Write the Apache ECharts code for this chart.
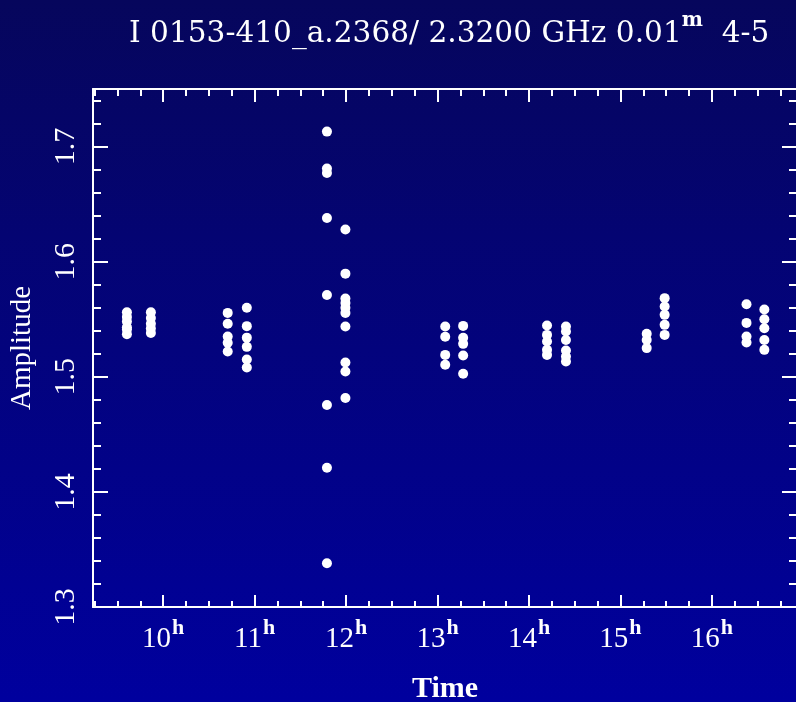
<!DOCTYPE html>
<html>
<head>
<meta charset="utf-8">
<script src="https://cdn.jsdelivr.net/npm/echarts@6/dist/echarts.min.js"></script>
<style>
  html, body { margin: 0; padding: 0; background: #000070; }
  #chart { width: 796px; height: 702px; }
</style>
</head>
<body>
<div id="chart"></div>
<script>
// Scan column times (hours UT)
const scanTimes = [9.604, 9.866, 10.706, 10.915, 11.791, 11.993, 13.084, 13.280, 14.197, 14.404, 15.287, 15.483, 16.378, 16.573];
// Amplitudes for each scan column
const amp1  = [1.556, 1.552, 1.548, 1.543, 1.541, 1.537];
const amp2  = [1.556, 1.551, 1.546, 1.542, 1.538];
const amp3  = [1.5555, 1.546, 1.535, 1.5295, 1.522];
const amp4  = [1.560, 1.544, 1.534, 1.526, 1.515, 1.508];
const amp5  = [1.713, 1.681, 1.677, 1.638, 1.571, 1.4755, 1.421, 1.338];
const amp6  = [1.628, 1.5896, 1.568, 1.564, 1.560, 1.5555, 1.5436, 1.5124, 1.5046, 1.4815];
const amp7  = [1.5436, 1.5347, 1.519, 1.5104];
const amp8  = [1.5442, 1.5338, 1.5286, 1.5185, 1.5026];
const amp9  = [1.5445, 1.5364, 1.5306, 1.5234, 1.519];
const amp10 = [1.5436, 1.5393, 1.532, 1.5228, 1.5176, 1.5133];
const amp11 = [1.5373, 1.532, 1.5249];
const amp12 = [1.5683, 1.561, 1.5538, 1.5451, 1.5364];
const amp13 = [1.563, 1.5468, 1.535, 1.5298];
const amp14 = [1.5584, 1.550, 1.5422, 1.532, 1.5234];
const ampColumns = [amp1, amp2, amp3, amp4, amp5, amp6, amp7, amp8, amp9, amp10, amp11, amp12, amp13, amp14];

const xMin = 9.2333, xMax = 16.93;
const yMin = 1.3, yMax = 1.75, yStep = 0.1;
const titleMain = 'I 0153-410_a.2368/ 2.3200 GHz 0.01';
const titleSup = 'm';
const titleTail = '  4-5';

const points = [];
scanTimes.forEach((t, i) => ampColumns[i].forEach(a => points.push([t, a])));

const serif = 'Liberation Serif';
const titleFont = 'DejaVu Serif';
const white = '#ffffff';

function xAxisBase(pos, majorLen, minorLen, showLabels) {
  return {
    type: 'value', position: pos, min: xMin, max: xMax,
    minInterval: 1, maxInterval: 1, splitNumber: 8,
    axisLine: { show: true, lineStyle: { color: white, width: 2 } },
    axisTick: { show: true, inside: true, length: majorLen, lineStyle: { color: white, width: 2 } },
    minorTick: { show: true, splitNumber: 4, length: minorLen, lineStyle: { color: white, width: 2 } },
    splitLine: { show: false }, minorSplitLine: { show: false },
    axisLabel: showLabels ? {
      show: true, showMinLabel: false, showMaxLabel: false, margin: 10,
      formatter: v => '{n|' + Math.round(v) + '}{s|h}',
      rich: {
        n: { fontFamily: serif, fontSize: 29, color: white, padding: [8, 1, 0, 0] },
        s: { fontFamily: serif, fontSize: 22, fontWeight: 'bold', color: white, verticalAlign: 'top' }
      }
    } : { show: false }
  };
}
function yAxisBase(pos, showLabels) {
  return {
    type: 'value', position: pos, min: yMin, max: yMax, interval: yStep,
    axisLine: { show: true, lineStyle: { color: white, width: 2 } },
    axisTick: { show: true, inside: true, length: 15, lineStyle: { color: white, width: 2 } },
    minorTick: { show: true, splitNumber: 5, length: 8, lineStyle: { color: white, width: 2 } },
    splitLine: { show: false }, minorSplitLine: { show: false },
    axisLabel: showLabels ? {
      show: true, showMaxLabel: false, rotate: 90, margin: 12,
      fontFamily: serif, fontSize: 30, color: white,
      formatter: v => v.toFixed(1)
    } : { show: false }
  };
}

const chart = echarts.init(document.getElementById('chart'), null, { renderer: 'canvas' });
const xb = xAxisBase('bottom', 12, 6, true);
xb.name = 'Time';
xb.nameLocation = 'middle';
xb.nameGap = 67;
xb.nameTextStyle = { fontFamily: serif, fontSize: 30, fontWeight: 'bold', color: white };
const yl = yAxisBase('left', true);
yl.name = 'Amplitude';
yl.nameLocation = 'middle';
yl.nameRotate = 90;
yl.nameGap = 56;
yl.nameTextStyle = { fontFamily: serif, fontSize: 29, color: white };

chart.setOption({
  animation: false,
  backgroundColor: {
    type: 'linear', x: 0, y: 0, x2: 0, y2: 1,
    colorStops: [{ offset: 0, color: '#06065c' }, { offset: 1, color: '#00009e' }]
  },
  title: {
    text: '{a|' + titleMain + '}{m|' + titleSup + '}{a|' + titleTail + '}',
    left: 124, top: 6,
    textStyle: {
      fontWeight: 'normal',
      rich: {
        a: { fontFamily: titleFont, fontSize: 29.6, fontWeight: 'normal', color: white, padding: [8, 0, 0, 0] },
        m: { fontFamily: titleFont, fontSize: 20, fontWeight: 'bold', color: white, verticalAlign: 'top' }
      }
    }
  },
  grid: { left: 93, top: 89, right: -1, bottom: 95, containLabel: false, outerBoundsMode: 'none' },
  xAxis: [xb, xAxisBase('top', 13, 7, false)],
  yAxis: [yl, yAxisBase('right', false)],
  series: [{
    type: 'scatter', xAxisIndex: 0, yAxisIndex: 0,
    data: points, symbol: 'circle', symbolSize: 10,
    itemStyle: { color: white, opacity: 1 }
  }]
});
</script>
</body>
</html>
